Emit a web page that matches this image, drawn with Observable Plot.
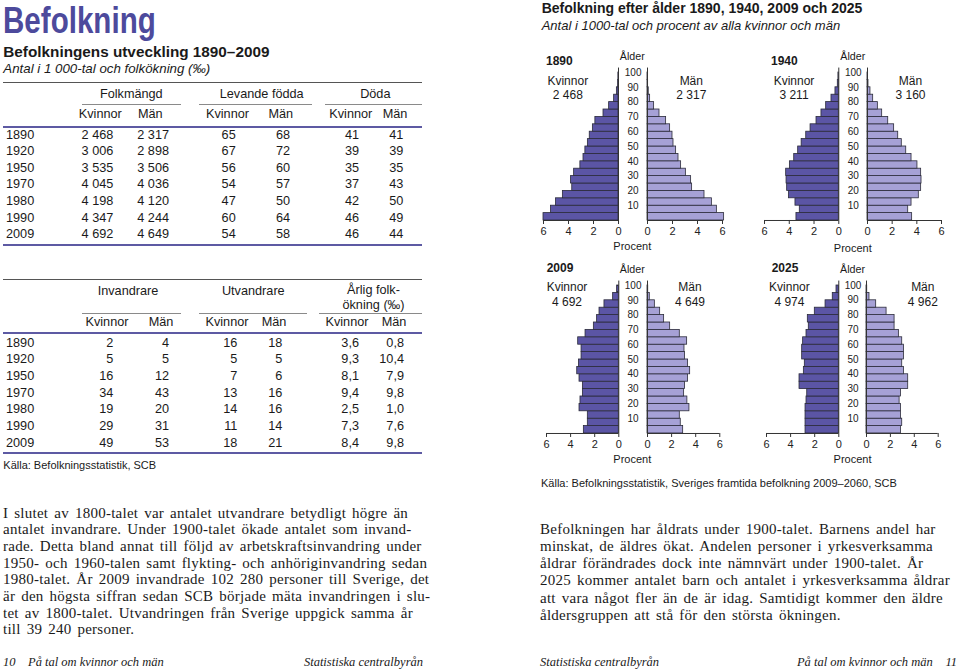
<!DOCTYPE html>
<html><head><meta charset="utf-8">
<script src="https://cdn.jsdelivr.net/npm/d3@7"></script>
<script src="https://cdn.jsdelivr.net/npm/@observablehq/plot@0.6"></script>
<style>
html,body{margin:0;padding:0;background:#fff;}
#page{position:relative;width:959px;height:672px;overflow:hidden;font-family:"Liberation Sans",Arial,sans-serif;color:#1a1a1a;}
.t{position:absolute;white-space:nowrap;line-height:1;}
.ln{position:absolute;}
.para{position:absolute;font-family:"Liberation Serif","Times New Roman",serif;white-space:nowrap;color:#1a1a1a;letter-spacing:0.25px;word-spacing:2px;}
.plot{position:absolute;}
</style></head><body><div id="page"></div>
<script>
// ---------- Table data ----------
const years = ["1890","1920","1950","1970","1980","1990","2009"];
const folkK = [2468,3006,3535,4045,4198,4347,4692];
const folkM = [2317,2898,3506,4036,4120,4244,4649];
const fodK  = [65,67,56,54,47,60,54];
const fodM  = [68,72,60,57,50,64,58];
const dodK  = [41,39,35,37,42,46,46];
const dodM  = [41,39,35,43,50,49,44];
const invK  = [2,5,16,34,19,29,49];
const invM  = [4,5,12,43,20,31,53];
const utvK  = [16,5,7,13,14,11,18];
const utvM  = [18,5,6,16,16,14,21];
const okK   = [3.6,9.3,8.1,9.4,2.5,7.3,8.4];
const okM   = [0.8,10.4,7.9,9.8,1.0,7.6,9.8];

// ---------- Pyramid data (percent, age groups 0-4 ... 95-99) ----------
const ageGroups = [0,5,10,15,20,25,30,35,40,45,50,55,60,65,70,75,80,85,90,95];
const ageTicks = [10,20,30,40,50,60,70,80,90,100];
const pyramidYears = ["1890","1940","2009","2025"];
const totalWomen = [2468,3211,4692,4974];
const totalMen   = [2317,3160,4649,4962];
const women1890 = [6.0,5.4,5.0,4.45,3.7,3.8,3.55,3.05,2.8,2.65,2.45,2.3,2.05,1.85,1.2,0.75,0.35,0.13,0.03,0.01];
const men1890   = [6.13,5.55,5.15,4.56,3.57,3.49,3.07,2.69,2.48,2.29,2.08,2.0,1.81,1.49,0.96,0.53,0.21,0.1,0.05,0.02];
const women1940 = [3.42,3.15,3.5,4.03,4.17,4.22,4.25,3.95,3.6,3.28,3.0,2.63,2.28,1.8,1.4,1.02,0.59,0.27,0.08,0.03];
const men1940   = [3.62,3.3,3.57,4.16,4.35,4.38,4.35,4.05,3.57,3.14,2.78,2.49,2.16,1.68,1.19,0.84,0.46,0.24,0.08,0.03];
const women2009 = [2.9,2.57,2.57,3.26,3.18,2.98,2.98,3.26,3.45,3.31,3.09,3.09,3.37,2.76,2.07,1.8,1.6,1.19,0.47,0.14];
const men2009   = [2.96,2.76,2.68,3.48,3.31,3.04,3.12,3.37,3.54,3.37,3.12,3.07,3.29,2.68,1.88,1.38,1.05,0.61,0.19,0.06];
const women2025 = [2.76,2.76,2.76,2.76,2.68,2.62,3.26,3.26,2.9,2.82,3.04,3.04,2.96,2.68,2.49,2.57,1.99,1.1,0.5,0.19];
const men2025   = [2.88,2.99,2.88,2.88,2.77,2.88,3.49,3.49,3.13,2.99,3.13,3.13,2.99,2.71,2.35,2.35,1.68,0.81,0.25,0.06];
const womenSeries = [women1890, women1940, women2009, women2025];
const menSeries   = [men1890, men1940, men2009, men2025];

// ---------- Helpers ----------
const page = document.getElementById("page");
const PURPLE = "#5d5aa3";
const fmtInt = n => String(n).replace(/\B(?=(\d{3})+(?!\d))/g, " ");
const fmtDec = n => n.toFixed(1).replace(".", ",");
function T(x, cy, s, o = {}) {
  const size = o.size || 12.7;
  const d = document.createElement("div");
  d.className = "t";
  d.textContent = s;
  d.style.fontSize = size + "px";
  d.style.top = (cy - 0.4865 * size) + "px";
  const a = o.anchor || "start";
  if (a === "start") d.style.left = x + "px";
  else if (a === "end") d.style.right = (959 - x) + "px";
  else { d.style.left = x + "px"; d.style.transform = "translateX(-50%)"; }
  if (o.weight) d.style.fontWeight = o.weight;
  if (o.italic) d.style.fontStyle = "italic";
  if (o.color) d.style.color = o.color;
  if (o.family) d.style.fontFamily = o.family;
  page.appendChild(d);
  return d;
}
function L(x1, x2, y, w, color) {
  const d = document.createElement("div");
  d.className = "ln";
  d.style.left = x1 + "px"; d.style.width = (x2 - x1) + "px";
  d.style.top = (y - w / 2) + "px"; d.style.height = w + "px";
  d.style.background = color;
  page.appendChild(d);
}
function P(x, top, lines, size, lh) {
  const d = document.createElement("div");
  d.className = "para";
  d.style.left = x + "px"; d.style.top = top + "px";
  d.style.fontSize = size + "px"; d.style.lineHeight = lh + "px";
  lines.forEach((s, i) => {
    if (i) d.appendChild(document.createElement("br"));
    d.appendChild(document.createTextNode(s));
  });
  page.appendChild(d);
}

// ---------- Left: headline ----------
const h = T(3, 20.3, "Befolkning", {size: 36.5, weight: "bold", color: "#4d4a9c"});
h.style.transformOrigin = "0 0"; h.style.transform = "scaleX(0.81)";
T(3.3, 51, "Befolkningens utveckling 1890–2009", {size: 15.3, weight: "bold"});
T(3.3, 68.5, "Antal i 1 000-tal och folkökning (‰)", {size: 13.3, italic: true});

// ---------- Table 1 ----------
L(3.3, 422.3, 82.7, 1.3, "#555");
T(131.3, 94.3, "Folkmängd", {anchor: "middle"});
T(261.7, 94.3, "Levande födda", {anchor: "middle"});
T(375.3, 94.3, "Döda", {anchor: "middle"});
L(81.7, 181, 104.3, 1, "#8a8a8a"); L(199.3, 312.3, 104.3, 1, "#8a8a8a"); L(325, 422.3, 104.3, 1, "#8a8a8a");
[[100.3,"Kvinnor"],[150.3,"Män"],[227.5,"Kvinnor"],[280.8,"Män"],[350.8,"Kvinnor"],[395,"Män"]]
  .forEach(([x, s]) => T(x, 114.3, s, {anchor: "middle"}));
L(3.3, 422.3, 127, 2.2, PURPLE);
const t1cols = [[folkK, 113.3, fmtInt],[folkM, 169, fmtInt],[fodK, 235.7, String],[fodM, 290, String],[dodK, 359, String],[dodM, 403.3, String]];
years.forEach((yr, i) => {
  const cy = 135 + i * 16.55;
  T(6, cy, yr);
  t1cols.forEach(([arr, x, f]) => T(x, cy, f(arr[i]), {anchor: "end"}));
});
L(3.3, 422.3, 245, 2.2, PURPLE);

// ---------- Table 2 ----------
L(3.3, 422.3, 279.3, 1.3, "#555");
T(128, 290.7, "Invandrare", {anchor: "middle"});
T(253.3, 290.7, "Utvandrare", {anchor: "middle"});
T(373.5, 290.2, "Årlig folk-", {anchor: "middle"});
T(373.5, 305, "ökning (‰)", {anchor: "middle"});
L(81.7, 181, 313.3, 1, "#8a8a8a"); L(199.3, 306.7, 313.3, 1, "#8a8a8a"); L(319, 422.3, 313.3, 1, "#8a8a8a");
[[107,"Kvinnor"],[161,"Män"],[227,"Kvinnor"],[274,"Män"],[347,"Kvinnor"],[394,"Män"]]
  .forEach(([x, s]) => T(x, 322.3, s, {anchor: "middle"}));
L(3.3, 422.3, 332.8, 2.2, PURPLE);
const t2cols = [[invK, 113.3, String],[invM, 169, String],[utvK, 237.3, String],[utvM, 282.3, String],[okK, 359, fmtDec],[okM, 404, fmtDec]];
years.forEach((yr, i) => {
  const cy = 342.7 + i * 16.67;
  T(6, cy, yr);
  t2cols.forEach(([arr, x, f]) => T(x, cy, f(arr[i]), {anchor: "end"}));
});
L(3.3, 422.3, 453.3, 2.2, PURPLE);
T(3.3, 465, "Källa: Befolkningsstatistik, SCB", {size: 11});

// ---------- Right: headline ----------
T(541.7, 8.3, "Befolkning efter ålder 1890, 1940, 2009 och 2025", {size: 14, weight: "bold"});
T(541.7, 25.5, "Antal i 1000-tal och procent av alla kvinnor och män", {size: 13, italic: true});

// ---------- Pyramids ----------
const layout = [
  {wx6:542.7, wx0:617.7, mx0:646.7, mx6:721.7, y100:72.3, y0:220.3, yearX:546, yearY:61, kX:567.8, mX:691.3, labY:81, totY:95, mid:632.3, alderY:56.7, procY:246.7},
  {wx6:764, wx0:838.3, mx0:867, mx6:941, y100:72.3, y0:220.3, yearX:771, yearY:61, kX:794, mX:910.5, labY:80.7, totY:95, mid:852.8, alderY:56, procY:248},
  {wx6:546, wx0:618.3, mx0:646.7, mx6:719, y100:284.7, y0:432.7, yearX:546.7, yearY:268, kX:567, mX:690, labY:287.3, totY:302.3, mid:632.3, alderY:269.7, procY:459.7},
  {wx6:766, wx0:838.3, mx0:866, mx6:937.7, y100:284.7, y0:432.7, yearX:771.7, yearY:268, kX:789.4, mX:922.8, labY:287.3, totY:302.3, mid:852.5, alderY:269.7, procY:459.7}
];
const WOMEN_FILL = "#5b55a5", MEN_FILL = "#a6a1d6", BAR_STROKE = "#2b2b3a";
const MT = 8, MB = 24;

function side(data, {women, lay}) {
  const ml = women ? 10 : 2, mr = women ? 2 : 10;
  const span = women ? lay.wx0 - lay.wx6 : lay.mx6 - lay.mx0;
  const marks = [
    Plot.rectX(data, {x: "v", y1: "age", y2: d => d.age + 5, fill: women ? WOMEN_FILL : MEN_FILL, stroke: BAR_STROKE, strokeWidth: 0.8}),
    Plot.ruleX([0], {y1: () => 0, y2: () => 103, stroke: "#333", strokeWidth: 1}),
    Plot.ruleY([0], {stroke: "#333", strokeWidth: 1}),
    Plot.axisX({ticks: [0, 2, 4, 6], tickFormat: d => String(d), tickSize: 4, tickPadding: 2.5, label: null, fontSize: 11, stroke: "#333", fill: "#222"})
  ];
  if (!women) {
    marks.push(Plot.text(ageTicks, {x: () => 0, y: d => d, text: d => String(d), dx: lay.mid - lay.mx0, textAnchor: "middle", fontSize: 10, fill: "#222"}));
  }
  const svg = Plot.plot({
    width: ml + span + mr,
    height: MT + (lay.y0 - lay.y100) + MB,
    marginLeft: ml, marginRight: mr, marginTop: MT, marginBottom: MB,
    x: {domain: women ? [6, 0] : [0, 6], label: null},
    y: {domain: [0, 100], axis: null},
    style: {fontFamily: "Liberation Sans, Arial, sans-serif", fontSize: "11px", background: "transparent", overflow: "visible", color: "#222"},
    marks
  });
  svg.classList.add("plot");
  svg.style.position = "absolute";
  svg.style.left = ((women ? lay.wx6 : lay.mx0) - ml) + "px";
  svg.style.top = (lay.y100 - MT) + "px";
  page.appendChild(svg);
}

pyramidYears.forEach((yr, i) => {
  const lay = layout[i];
  const wData = ageGroups.map((age, j) => ({age, v: womenSeries[i][j]}));
  const mData = ageGroups.map((age, j) => ({age, v: menSeries[i][j]}));
  side(wData, {women: true, lay});
  side(mData, {women: false, lay});
  T(lay.yearX, lay.yearY, yr, {size: 12, weight: "bold"});
  T(lay.kX, lay.labY, "Kvinnor", {size: 12, anchor: "middle"});
  T(lay.kX, lay.totY, fmtInt(totalWomen[i]), {size: 12, anchor: "middle"});
  T(lay.mX, lay.labY, "Män", {size: 12, anchor: "middle"});
  T(lay.mX, lay.totY, fmtInt(totalMen[i]), {size: 12, anchor: "middle"});
  T(lay.mid, lay.alderY, "Ålder", {size: 10.7, anchor: "middle"});
  T(lay.mid, lay.procY, "Procent", {size: 11, anchor: "middle"});
});
T(541, 483.3, "Källa: Befolkningsstatistik, Sveriges framtida befolkning 2009–2060, SCB", {size: 11});

// ---------- Body text ----------
P(3, 504.6, [
  "I slutet av 1800-talet var antalet utvandrare betydligt högre än",
  "antalet invandrare. Under 1900-talet ökade antalet som invand-",
  "rade. Detta bland annat till följd av arbetskraftsinvandring under",
  "1950- och 1960-talen samt flykting- och anhöriginvandring sedan",
  "1980-talet. År 2009 invandrade 102 280 personer till Sverige, det",
  "är den högsta siffran sedan SCB började mäta invandringen i slu-",
  "tet av 1800-talet. Utvandringen från Sverige uppgick samma år",
  "till 39 240 personer."
], 15, 16.67);
P(540, 520.5, [
  "Befolkningen har åldrats under 1900-talet. Barnens andel har",
  "minskat, de äldres ökat. Andelen personer i yrkesverksamma",
  "åldrar förändrades dock inte nämnvärt under 1900-talet. År",
  "2025 kommer antalet barn och antalet i yrkesverksamma åldrar",
  "att vara något fler än de är idag. Samtidigt kommer den äldre",
  "åldersgruppen att stå för den största ökningen."
], 15, 17.3);

// ---------- Footers ----------
const FS = {size: 12.5, italic: true, family: "Liberation Serif, Times New Roman, serif"};
T(3, 662.5, "10", FS);
T(28, 662.5, "På tal om kvinnor och män", FS);
T(423, 662.5, "Statistiska centralbyrån", {...FS, anchor: "end"});
T(540, 662, "Statistiska centralbyrån", FS);
T(932.7, 662, "På tal om kvinnor och män", {...FS, anchor: "end"});
T(957, 662, "11", {...FS, anchor: "end"});
</script></body></html>
